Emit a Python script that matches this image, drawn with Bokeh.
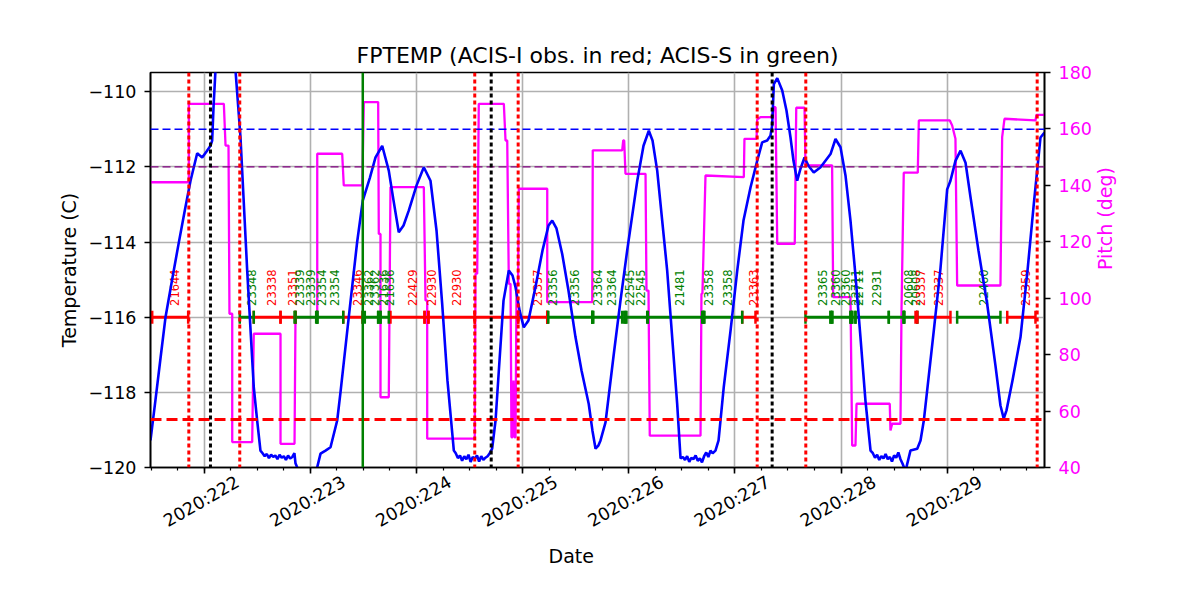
import math
from bokeh.plotting import figure
from bokeh.models import Range1d, LinearAxis, FixedTicker, Span, ColumnDataSource, Title
from bokeh.core.properties import value
from bokeh.embed import file_html
from bokeh.resources import INLINE

FONT = "DejaVu Sans"

# ---------------- data ----------------
temp_day = [
    221.494, 221.541, 221.588, 221.635, 221.701, 221.761, 221.814, 221.871, 221.934, 221.981,
    222.022, 222.059, 222.075, 222.088, 222.106, 222.201, 222.295, 222.342, 222.405, 222.467,
    222.499, 222.530,
    222.55, 222.57, 222.59, 222.61, 222.63, 222.65, 222.67, 222.69, 222.71, 222.73, 222.75,
    222.77, 222.79, 222.81, 222.83, 222.85,
    222.860, 222.888, 222.954, 223.020, 223.065, 223.096, 223.143, 223.190, 223.253, 223.284,
    223.362, 223.441, 223.494, 223.560, 223.614, 223.677, 223.739, 223.784, 223.833, 223.878,
    223.928, 224.000, 224.069, 224.132, 224.189, 224.242, 224.292, 224.352,
    224.37, 224.39, 224.41, 224.43, 224.45, 224.47, 224.49, 224.51, 224.53, 224.55, 224.57,
    224.59, 224.61, 224.63, 224.65, 224.67, 224.69,
    224.713, 224.745, 224.776, 224.820, 224.870, 224.905, 224.933, 224.971, 225.011, 225.055,
    225.121, 225.187, 225.244, 225.279, 225.319, 225.373, 225.432, 225.498, 225.555, 225.623,
    225.658, 225.687, 225.715, 225.734, 225.781, 225.859, 225.922, 225.985, 226.080, 226.139,
    226.189, 226.224, 226.268, 226.362, 226.456, 226.488,
    226.51, 226.53, 226.55, 226.57, 226.59, 226.61, 226.63, 226.65, 226.67, 226.69, 226.71,
    226.73, 226.75, 226.77, 226.79,
    226.817, 226.846, 226.895, 226.959, 227.022, 227.081, 227.147, 227.210, 227.257, 227.304,
    227.335, 227.351, 227.367, 227.399, 227.446, 227.486, 227.524, 227.552, 227.587, 227.618,
    227.656, 227.693, 227.743, 227.807, 227.901, 227.948, 227.995, 228.042, 228.089, 228.136,
    228.183, 228.230, 228.278,
    228.30, 228.32, 228.34, 228.36, 228.38, 228.40, 228.42, 228.44, 228.46, 228.48, 228.50,
    228.52, 228.54, 228.56, 228.58,
    228.607, 228.654, 228.718, 228.749, 228.780, 228.874, 228.937, 229.000, 229.031, 229.078,
    229.126, 229.173, 229.220, 229.295, 229.377, 229.455, 229.502, 229.533, 229.559, 229.615,
    229.691, 229.757, 229.816, 229.879, 229.917,
]
temp_c = [
    -119.28, -118.2, -117.1, -116.01, -114.95, -114.01, -113.21, -112.37, -111.64, -111.75,
    -111.59, -111.44, -111.3, -110.4, -109.44, -108.3, -109.44, -111.22, -114.76, -117.86,
    -118.75, -119.55,
    -119.62, -119.70, -119.64, -119.75, -119.66, -119.72, -119.68, -119.78, -119.66, -119.74,
    -119.70, -119.80, -119.68, -119.76, -119.72, -119.62,
    -119.89, -120.08, -120.4, -120.2, -119.99, -119.63, -119.55, -119.46, -118.75, -118.0,
    -116.0, -114.0, -112.9, -112.3, -111.75, -111.44, -112.1, -112.9, -113.74, -113.56,
    -113.16, -112.5, -112.01, -112.37, -113.7, -115.64, -117.69, -119.55,
    -119.62, -119.75, -119.68, -119.82, -119.70, -119.78, -119.66, -119.85, -119.72, -119.76,
    -119.68, -119.84, -119.70, -119.80, -119.74, -119.70, -119.62,
    -119.5, -118.75, -117.42, -115.56, -114.76, -114.89, -115.2, -115.82, -116.27, -116.09,
    -115.2, -114.23, -113.56, -113.43, -113.64, -114.32, -115.29, -116.53, -117.42, -118.31,
    -119.02, -119.5, -119.41, -119.28, -118.8, -116.98, -115.56, -114.23, -112.37, -111.44,
    -111.04, -111.3, -112.1, -114.76, -118.3, -119.76,
    -119.72, -119.80, -119.70, -119.85, -119.74, -119.78, -119.68, -119.82, -119.76, -119.86,
    -119.70, -119.60, -119.72, -119.55, -119.62,
    -119.55, -119.28, -117.86, -116.36, -114.76, -113.43, -112.55, -111.84, -111.35, -111.3,
    -111.17, -110.9, -109.8, -109.64, -109.97, -110.5, -111.22, -111.84, -112.37, -112.05,
    -111.75, -111.97, -112.15, -112.01, -111.66, -111.26, -111.48, -112.23, -113.43, -114.89,
    -116.53, -118.22, -119.55,
    -119.62, -119.74, -119.66, -119.80, -119.70, -119.76, -119.64, -119.78, -119.72, -119.84,
    -119.68, -119.74, -119.60, -119.78, -119.90,
    -120.1, -119.55, -119.5, -119.28, -118.75, -116.36, -114.7, -112.6, -112.37, -111.84,
    -111.57, -111.89, -112.81, -114.23, -115.65, -117.29, -118.35, -118.7, -118.48, -117.69,
    -116.53, -114.76, -112.99, -111.22, -111.09,
]

pitch_day = [
    221.494, 221.855, 221.855, 222.185, 222.201, 222.229, 222.238, 222.264, 222.264, 222.452,
    222.467, 222.719, 222.719, 222.851, 222.860, 223.065, 223.065, 223.300, 223.315, 223.489,
    223.504, 223.639, 223.645, 223.661, 223.661, 223.739, 223.755, 224.069, 224.085, 224.101,
    224.101, 224.549, 224.556, 224.572, 224.587, 224.823, 224.839, 224.855, 224.870, 224.886,
    224.895, 224.905, 224.914, 224.924, 224.933, 224.943, 224.957, 224.964, 225.232, 225.232,
    225.656, 225.661, 225.938, 225.948, 225.957, 225.969, 226.158, 226.167, 226.186, 226.198,
    226.676, 226.685, 226.694, 226.723, 227.084, 227.090, 227.204, 227.210, 227.241, 227.351,
    227.367, 227.383, 227.399, 227.564, 227.578, 227.656, 227.665, 227.916, 227.926, 228.089,
    228.105, 228.136, 228.146, 228.459, 228.466, 228.482, 228.560, 228.570, 228.591, 228.723,
    228.733, 229.025, 229.047, 229.078, 229.094, 229.502, 229.518, 229.540, 229.832, 229.841,
    229.917,
]
pitch_deg = [
    141.1, 141.1, 168.9, 168.9, 154.1, 154.1, 94.5, 94.5, 49.0, 49.0,
    87.4, 87.4, 48.4, 48.4, 93.3, 93.3, 151.2, 151.2, 140.0, 140.0,
    169.5, 169.5, 122.8, 122.8, 64.9, 64.9, 139.4, 139.4, 99.2, 99.2,
    50.2, 50.2, 108.7, 108.7, 168.9, 168.9, 155.9, 155.9, 105.1, 105.1,
    50.7, 50.7, 70.8, 50.7, 50.7, 105.1, 105.1, 138.8, 138.8, 98.6,
    98.6, 152.4, 152.4, 155.9, 155.9, 144.1, 144.1, 102.7, 102.7, 51.3,
    51.3, 101.6, 101.6, 143.5, 142.9, 156.5, 156.5, 163.3, 164.2, 164.2,
    167.7, 167.7, 119.3, 119.3, 167.5, 167.5, 147.1, 147.1, 100.4, 100.4,
    47.8, 47.8, 62.6, 62.6, 53.1, 55.5, 55.5, 96.3, 144.5, 144.5,
    163.0, 163.0, 161.2, 156.5, 104.5, 104.5, 157.1, 163.6, 163.0, 165.0,
    165.0,
]

obs_start = [
    221.510, 222.335, 222.467, 222.719, 222.851, 222.860, 223.055, 223.065, 223.310, 223.494,
    223.494, 223.639, 223.661, 223.755, 224.076, 224.113, 224.549, 224.958, 225.232, 225.232,
    225.656, 225.656, 225.958, 225.969, 226.180, 226.699, 226.707, 227.069, 227.665, 227.901,
    227.917, 228.089, 228.105, 228.136, 228.450, 228.591, 228.591, 228.702, 228.718, 229.094,
    229.566,
]
obs_stop = [
    221.849, 222.467, 222.719, 222.860, 222.860, 223.065, 223.065, 223.310, 223.494, 223.513,
    223.639, 223.661, 223.739, 224.076, 224.113, 224.549, 224.958, 225.232, 225.242, 225.656,
    225.666, 225.938, 225.978, 226.174, 226.692, 226.713, 227.069, 227.194, 227.901, 227.917,
    228.089, 228.105, 228.136, 228.450, 228.591, 228.598, 228.718, 228.718, 229.031, 229.502,
    229.832,
]
obs_id = [
    "21644", "23348", "23338", "23351", "23339", "23339", "23354", "23354", "23346", "23362",
    "23362", "21636", "21636", "22429", "22930", "22930", "", "23357", "23356", "23356",
    "23364", "23364", "22545", "22545", "21481", "23358", "23358", "23363", "23365", "23360",
    "23360", "22711", "22711", "22931", "", "20608", "20608", "23337", "23337", "22460",
    "23359",
]
obs_inst = [
    "I", "S", "I", "I", "S", "S", "S", "S", "I", "S",
    "S", "S", "S", "I", "I", "I", "I", "I", "S", "S",
    "S", "S", "S", "S", "S", "S", "S", "I", "S", "S",
    "S", "S", "S", "S", "S", "S", "S", "I", "I", "S",
    "I",
]

red_dotted_days = [221.855, 222.335, 224.549, 224.958, 227.210, 227.668, 229.848]
black_dotted_days = [222.059, 224.704, 227.351]
green_line_days = [223.494]

planning_limit = -111.0
yellow_limit = -112.0
acis_i_limit = -118.72
obs_level = -116.0
obs_label_level = -115.7

day_ticks = [222, 223, 224, 225, 226, 227, 228, 229]
day_labels = ["2020:222", "2020:223", "2020:224", "2020:225",
              "2020:226", "2020:227", "2020:228", "2020:229"]
minor_day_ticks = [221.5 + 0.25 * i for i in range(34)]
temp_ticks = [-120, -118, -116, -114, -112, -110]
temp_labels = ["\u2212120", "\u2212118", "\u2212116", "\u2212114", "\u2212112", "\u2212110"]
pitch_ticks = [40, 60, 80, 100, 120, 140, 160, 180]

inst_color = {"I": "red", "S": "green"}

# ---------------- figure ----------------
p = figure(
    frame_width=894, frame_height=395,
    min_border_left=150, min_border_right=140, min_border_top=72, min_border_bottom=117,
    x_range=Range1d(221.494, 229.917), y_range=Range1d(-120.0, -109.49),
    output_backend="svg", toolbar_location=None,
    title="FPTEMP (ACIS-I obs. in red; ACIS-S in green)",
    background_fill_color="white", border_fill_color="white",
)
p.extra_y_ranges = {"pitch": Range1d(40, 180)}

p.title.align = "center"
p.title.text_font = FONT
p.title.text_font_size = "22px"
p.title.text_font_style = "normal"
p.title.text_color = "black"

p.outline_line_color = "black"
p.outline_line_width = 1.6
p.outline_line_alpha = 1.0

# grids
p.xgrid.ticker = FixedTicker(ticks=day_ticks)
p.ygrid.ticker = FixedTicker(ticks=temp_ticks)
for g in (p.xgrid, p.ygrid):
    g.grid_line_color = "#b0b0b0"
    g.grid_line_width = 1.6

# x axis: tick marks only
xa = p.xaxis[0]
xa.ticker = FixedTicker(ticks=day_ticks, minor_ticks=minor_day_ticks)
xa.major_label_overrides = {t: "" for t in day_ticks}

# left axis
ya = p.yaxis[0]
ya.ticker = FixedTicker(ticks=temp_ticks)
ya.major_label_overrides = {t: l for t, l in zip(temp_ticks, temp_labels)}
ya.axis_label = "Temperature (C)"

# right axis
ra = LinearAxis(y_range_name="pitch", ticker=FixedTicker(ticks=pitch_ticks),
                axis_label="Pitch (deg)")
p.add_layout(ra, "right")

for ax in (xa, ya, ra):
    ax.axis_line_color = "black"
    ax.axis_line_width = 1.6
    ax.major_tick_line_color = "black"
    ax.major_tick_line_width = 1.6
    ax.major_tick_in = 0
    ax.major_tick_out = 6
    ax.minor_tick_line_color = "black"
    ax.minor_tick_line_width = 1.2
    ax.minor_tick_in = 0
    ax.major_label_text_font = FONT
    ax.major_label_text_font_size = "17.5px"
    ax.major_label_text_color = "black"
    ax.axis_label_text_font = FONT
    ax.axis_label_text_font_size = "19px"
    ax.axis_label_text_font_style = "normal"
    ax.axis_label_text_color = "black"
    ax.major_label_standoff = 8
    ax.axis_label_standoff = 10
xa.minor_tick_out = 3
xa.major_label_standoff = 0
xa.major_label_text_font_size = "1px"
ya.minor_tick_out = 0
ya.axis_label_standoff = 5
ra.minor_tick_out = 0
ra.major_label_text_color = "magenta"
ra.axis_label_text_color = "magenta"
ra.axis_label_orientation = math.pi / 2

# date labels: rotated 30 deg and centred under each day tick.
# Bokeh right-aligns rotated labels at the tick, so this label-only axis puts its
# anchors half a label-width (along the 30 deg direction) to the right of each day.
label_half_shift = 0.315  # days (about 33 px at this scale)
label_ticks = [t + label_half_shift for t in day_ticks]
la = LinearAxis(ticker=FixedTicker(ticks=label_ticks, minor_ticks=[]))
la.major_label_overrides = {t: l for t, l in zip(label_ticks, day_labels)}
la.major_label_orientation = math.pi / 6
la.axis_line_color = None
la.major_tick_line_color = None
la.minor_tick_line_color = None
la.major_tick_in = 0
la.major_tick_out = 0
la.minor_tick_out = 0
la.major_label_standoff = 7
la.major_label_text_font = FONT
la.major_label_text_font_size = "17.5px"
la.major_label_text_color = "black"
p.add_layout(la, "below")

# x-axis title "Date"
p.add_layout(Title(text="Date", align="left", offset=398, standoff=0,
                   text_font=FONT, text_font_size="19px", text_font_style="normal",
                   text_color="black"), "below")

# ---------------- glyphs ----------------
p.line(pitch_day, pitch_deg, y_range_name="pitch", line_color="magenta", line_width=2.3)

obs_src = ColumnDataSource(dict(
    x0=obs_start, x1=obs_stop,
    xm=[(a + b) / 2 for a, b in zip(obs_start, obs_stop)],
    y=[obs_level] * len(obs_start),
    yl=[obs_label_level] * len(obs_start),
    label=obs_id,
    color=[inst_color[i] for i in obs_inst],
))
p.segment(x0="x0", y0="y", x1="x1", y1="y", line_color="color", line_width=3, source=obs_src)
p.scatter(x="x0", y="y", marker="dash", angle=math.pi / 2, size=13, line_width=2.5,
          line_color="color", source=obs_src)
p.scatter(x="x1", y="y", marker="dash", angle=math.pi / 2, size=13, line_width=2.5,
          line_color="color", source=obs_src)
p.text(x="xm", y="yl", text="label", angle=math.pi / 2, text_align="left",
       text_baseline="top", text_font=value(FONT), text_font_size="11.5px",
       text_color="color", source=obs_src)

p.line(temp_day, temp_c, line_color="blue", line_width=2.6)

p.add_layout(Span(location=planning_limit, dimension="width", line_color="blue",
                  line_width=1.3, line_dash="8 4"))
p.add_layout(Span(location=yellow_limit, dimension="width", line_color="purple",
                  line_width=1.3, line_dash="8 4"))
p.add_layout(Span(location=acis_i_limit, dimension="width", line_color="red",
                  line_width=3, line_dash="11 5"))
for d in red_dotted_days:
    p.add_layout(Span(location=d, dimension="height", line_color="red",
                      line_width=3, line_dash="4 3"))
for d in black_dotted_days:
    p.add_layout(Span(location=d, dimension="height", line_color="black",
                      line_width=3, line_dash="4 3"))
for d in green_line_days:
    p.add_layout(Span(location=d, dimension="height", line_color="green",
                      line_width=2.5))

open("out.html", "w").write(file_html(p, INLINE))
